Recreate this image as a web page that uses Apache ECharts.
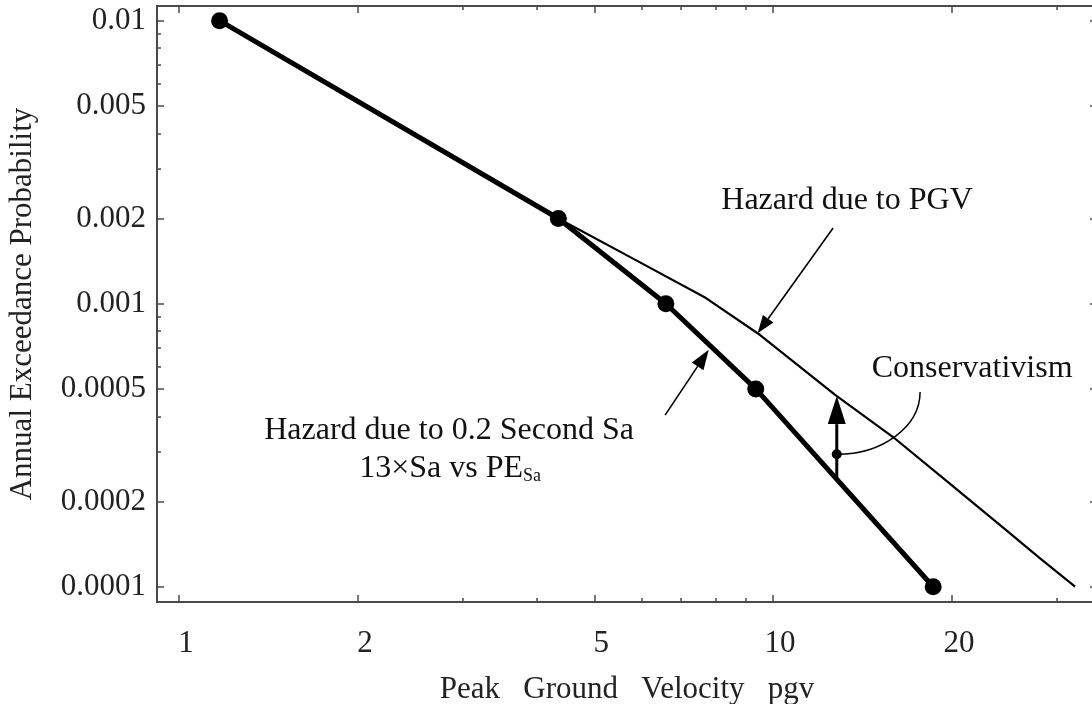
<!DOCTYPE html>
<html>
<head>
<meta charset="utf-8">
<script src="https://cdn.jsdelivr.net/npm/echarts@6/dist/echarts.min.js"></script>
<style>
  html, body { margin: 0; padding: 0; background: #fff; }
  #chart { width: 1092px; height: 704px; }
</style>
</head>
<body>
<div id="chart"></div>
<script>
// Hazard from 0.2 s spectral acceleration, plotted as 13×Sa against its exceedance probability
const saPgv  = [1.17, 4.35, 6.6, 9.35, 18.6];
const saProb = [0.01, 0.002, 0.001, 0.0005, 0.0001];

// Hazard computed directly for peak ground velocity
const pgvValues = [1.17, 4.35, 5.97, 7.71, 9.51, 12.72, 15.92, 19.86, 24.11, 28.15, 32.24];
const pgvProb   = [0.01, 0.002, 0.0014, 0.001047, 0.000775, 0.000476, 0.000338, 0.000231, 0.000165, 0.000126, 0.0001];

// Axis ticks
const xMajorTicks = [1, 2, 5, 10, 20];
const xMinorTicks = [3, 4, 6, 7, 8, 9, 30];
const yMajorTicks = [0.01, 0.005, 0.002, 0.001, 0.0005, 0.0002, 0.0001];
const yMinorTicks = [0.009, 0.008, 0.007, 0.006, 0.004, 0.003,
                     0.0009, 0.0008, 0.0007, 0.0006, 0.0004, 0.0003];

// Where the annotation on the gap between the two curves sits
const conservativismPgv = 12.8;

const X_MIN = 0.918, X_MAX = 35.1;
const Y_MIN = 0.0000883, Y_MAX = 0.01127;

const FONT = '"Liberation Serif", "DejaVu Serif", "Times New Roman", serif';
const FRAME = '#4a4a4a';
const INK = '#111';

const fmt = v => String(parseFloat(Number(v).toPrecision(6)));

function xAxisDef(position, ticks, len, withLabels) {
  return {
    type: 'log', logBase: 10, position, min: X_MIN, max: X_MAX,
    axisLine: { show: true, lineStyle: { color: FRAME, width: 2 } },
    axisTick: { show: true, inside: true, length: len, customValues: ticks,
                lineStyle: { color: FRAME, width: 1.5 } },
    axisLabel: withLabels ? {
      show: true, customValues: xMajorTicks, formatter: fmt, margin: 26,
      fontFamily: FONT, fontSize: 31, color: '#222', padding: [0, 0, 0, 14]
    } : { show: false },
    splitLine: { show: false }, minorTick: { show: false }, minorSplitLine: { show: false },
    name: withLabels ? 'Peak\u2002 Ground\u2002 Velocity\u2002 pgv' : '',
    nameLocation: 'middle', nameGap: 72,
    nameTextStyle: { fontFamily: FONT, fontSize: 31, color: '#222' }
  };
}

function yAxisDef(position, ticks, len, withLabels) {
  return {
    type: 'log', logBase: 10, position, min: Y_MIN, max: Y_MAX,
    axisLine: { show: true, lineStyle: { color: FRAME, width: 2 } },
    axisTick: { show: true, inside: true, length: len, customValues: ticks,
                lineStyle: { color: FRAME, width: 1.5 } },
    axisLabel: withLabels ? {
      show: true, customValues: yMajorTicks, formatter: fmt, margin: 11,
      fontFamily: FONT, fontSize: 31, color: '#222', padding: [4, 0, 0, 0]
    } : { show: false },
    splitLine: { show: false }, minorTick: { show: false }, minorSplitLine: { show: false },
    name: withLabels ? 'Annual Exceedance Probability' : '',
    nameLocation: 'middle', nameGap: 119,
    nameTextStyle: { fontFamily: FONT, fontSize: 31, color: '#222' }
  };
}

const chart = echarts.init(document.getElementById('chart'), null, { renderer: 'canvas' });

chart.setOption({
  animation: false,
  backgroundColor: '#fff',
  grid: { left: 157, top: 6, width: 940, height: 596, containLabel: false, outerBoundsMode: 'none' },
  xAxis: [
    xAxisDef('bottom', xMajorTicks, 7, true),
    xAxisDef('bottom', xMinorTicks, 4, false),
    xAxisDef('top', xMajorTicks, 7, false),
    xAxisDef('top', xMinorTicks, 4, false)
  ],
  yAxis: [
    yAxisDef('left', yMajorTicks, 7, true),
    yAxisDef('left', yMinorTicks, 4, false),
    yAxisDef('right', yMajorTicks, 7, false),
    yAxisDef('right', yMinorTicks, 4, false)
  ],
  series: [
    {
      name: 'Hazard due to PGV', type: 'line',
      data: pgvValues.map((x, i) => [x, pgvProb[i]]),
      symbol: 'none', smooth: false, z: 2,
      lineStyle: { color: '#000', width: 2.2 }
    },
    {
      name: 'Hazard due to 0.2 Second Sa', type: 'line',
      data: saPgv.map((x, i) => [x, saProb[i]]),
      symbol: 'circle', symbolSize: 17, z: 3,
      itemStyle: { color: '#000' },
      lineStyle: { color: '#000', width: 5 }
    }
  ]
});

// ---------- annotations, anchored in data coordinates ----------
const toPx = (x, y) => chart.convertToPixel({ gridIndex: 0 }, [x, y]);

// straight-line value of a log-log polyline at x
function logInterp(xs, ys, x) {
  const lx = Math.log10(x);
  for (let i = 0; i < xs.length - 1; i++) {
    const a = Math.log10(xs[i]), b = Math.log10(xs[i + 1]);
    if (lx >= a && lx <= b) {
      const t = (lx - a) / (b - a);
      return Math.pow(10, Math.log10(ys[i]) + t * (Math.log10(ys[i + 1]) - Math.log10(ys[i])));
    }
  }
  return ys[ys.length - 1];
}

function arrow(tail, tip, headLen, headW, lw) {
  const dx = tip[0] - tail[0], dy = tip[1] - tail[1];
  const L = Math.hypot(dx, dy), ux = dx / L, uy = dy / L;
  const bx = tip[0] - ux * headLen, by = tip[1] - uy * headLen;
  const nx = -uy * headW / 2, ny = ux * headW / 2;
  return [
    { type: 'line', silent: true, z: 10,
      shape: { x1: tail[0], y1: tail[1], x2: bx, y2: by },
      style: { stroke: '#000', lineWidth: lw } },
    { type: 'polygon', silent: true, z: 10,
      shape: { points: [[tip[0], tip[1]], [bx + nx, by + ny], [bx - nx, by - ny]] },
      style: { fill: '#000' } }
  ];
}

function label(pos, text, size, extra) {
  return Object.assign({
    type: 'text', silent: true, z: 10, x: pos[0], y: pos[1],
    style: { text, fontFamily: FONT, fontSize: size, fill: INK, align: 'center', verticalAlign: 'middle' }
  }, extra || {});
}

function drawAnnotations() {
  const g = [];

  // "Hazard due to PGV" and its pointer onto the PGV curve
  g.push(label(toPx(13.32, 0.002306), 'Hazard due to PGV', 32));
  const pgvTipX = 9.42;
  g.push(...arrow(toPx(12.62, 0.00185), toPx(pgvTipX, logInterp(pgvValues, pgvProb, pgvTipX)), 18, 13, 1.6));

  // Sa curve caption and pointer
  g.push(label(toPx(2.848, 0.000355), 'Hazard due to 0.2 Second Sa', 32));
  g.push({
    type: 'text', silent: true, z: 10,
    x: toPx(2.86, 0.0002606)[0], y: toPx(2.86, 0.0002606)[1],
    style: {
      text: '{m|13×Sa vs PE}{s|Sa}', align: 'center', verticalAlign: 'middle',
      rich: {
        m: { fontFamily: FONT, fontSize: 32, fill: INK, color: INK },
        s: { fontFamily: FONT, fontSize: 18, fill: INK, color: INK, verticalAlign: 'bottom' }
      }
    }
  });
  const saTipX = 7.86;
  const saTip = toPx(saTipX, logInterp(saPgv, saProb, saTipX));
  const saTail = toPx(6.58, 0.000404);
  {
    const dx = saTip[0] - saTail[0], dy = saTip[1] - saTail[1], L = Math.hypot(dx, dy);
    saTip[0] -= dx / L * 4; saTip[1] -= dy / L * 4;   // stop at the edge of the thick stroke
  }
  g.push(...arrow(saTail, saTip, 20, 14, 1.6));

  // Conservativism: vertical gap between the curves at one velocity
  const bottom = toPx(conservativismPgv, logInterp(saPgv, saProb, conservativismPgv));
  const top = toPx(conservativismPgv, logInterp(pgvValues, pgvProb, conservativismPgv));
  g.push(...arrow(bottom, top, 28, 18, 3));
  const dot = [bottom[0], top[1] + 0.7 * (bottom[1] - top[1])];
  g.push({ type: 'circle', silent: true, z: 11, shape: { cx: dot[0], cy: dot[1], r: 5 }, style: { fill: '#000' } });
  const arcStart = toPx(17.68, 0.0004875);
  const rx = arcStart[0] - dot[0], ry = dot[1] - arcStart[1];
  g.push({
    type: 'bezierCurve', silent: true, z: 10,
    shape: {
      x1: arcStart[0], y1: arcStart[1],
      cpx1: arcStart[0], cpy1: arcStart[1] + 0.552 * ry,
      cpx2: dot[0] + 0.552 * rx, cpy2: dot[1],
      x2: dot[0], y2: dot[1]
    },
    style: { stroke: '#000', lineWidth: 1.5, fill: null }
  });
  g.push(label(toPx(21.63, 0.000588), 'Conservativism', 32));

  chart.setOption({ graphic: g });
}

drawAnnotations();
</script>
</body>
</html>
